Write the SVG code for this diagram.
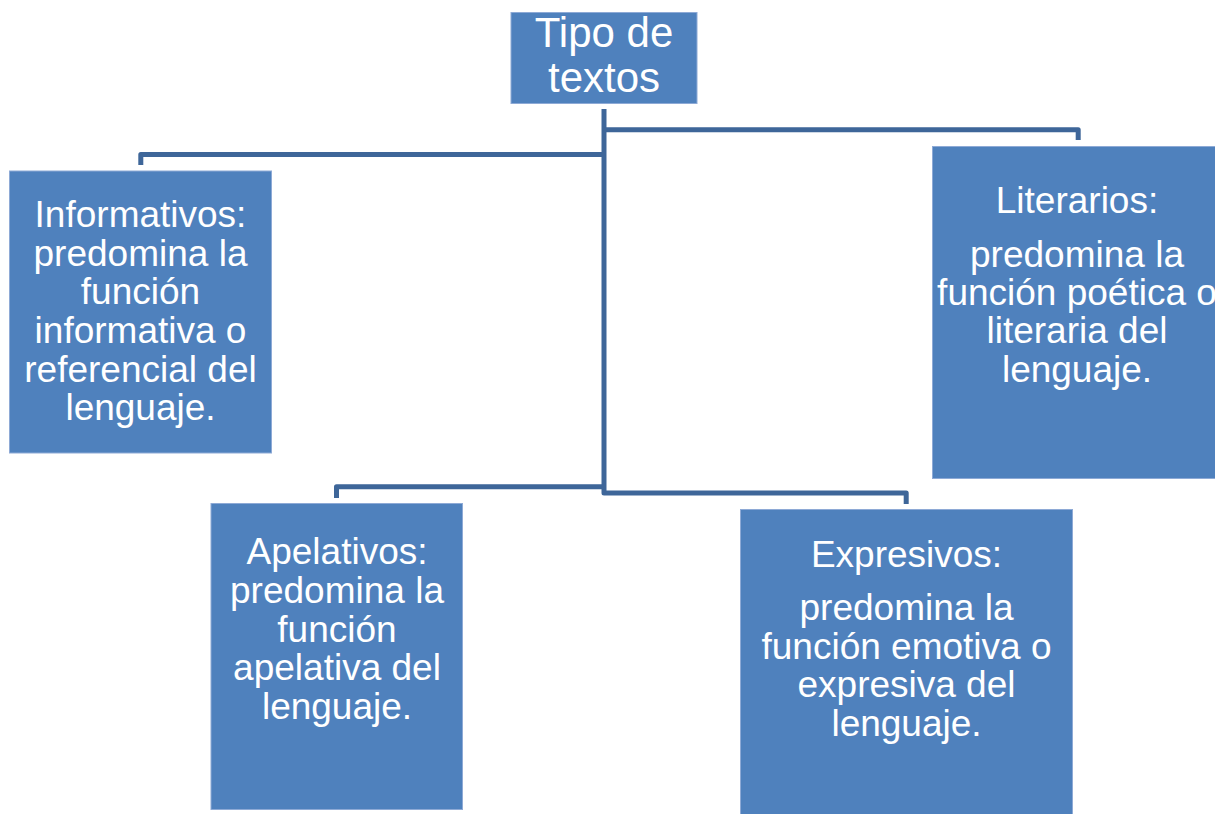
<svg xmlns="http://www.w3.org/2000/svg" width="1215" height="814" viewBox="0 0 1215 814">
<style>
.box{fill:#4F81BD;stroke:#8EAAD6;stroke-width:1}
.t{fill:#FFFFFF;font-family:"Liberation Sans",Arial,sans-serif;font-size:37px;text-anchor:middle}
.title{font-size:42px}
.conn{fill:none;stroke:#3E6699;stroke-width:5;stroke-linejoin:round;stroke-linecap:butt}
</style>
<rect width="1215" height="814" fill="#FFFFFF"/>
<g id="connectors">
<path class="conn" d="M604 109 V493 H906.2 V504"/>
<path class="conn" d="M604 154.5 H140.8 V165"/>
<path class="conn" d="M604 129.8 H1078.2 V140"/>
<path class="conn" d="M604 486.8 H336.5 V498"/>
</g>
<g id="node-tipo">
<rect class="box" x="511" y="12.5" width="186" height="91"/>
<text class="t title" x="604" y="47">Tipo de</text>
<text class="t title" x="604" y="92">textos</text>
</g>
<g id="node-informativos">
<rect class="box" x="9.5" y="171" width="262" height="282"/>
<text class="t" x="140.5" y="227">Informativos:</text>
<text class="t" x="140.5" y="265.7">predomina la</text>
<text class="t" x="140.5" y="304.3">función</text>
<text class="t" x="140.5" y="343">informativa o</text>
<text class="t" x="140.5" y="381.7">referencial del</text>
<text class="t" x="140.5" y="420.3">lenguaje.</text>
</g>
<g id="node-literarios">
<rect class="box" x="932.5" y="146.5" width="290" height="332"/>
<text class="t" x="1077" y="212.7">Literarios:</text>
<text class="t" x="1077" y="266.7">predomina la</text>
<text class="t" x="1077" y="305">función poética o</text>
<text class="t" x="1077" y="343">literaria del</text>
<text class="t" x="1077" y="381.7">lenguaje.</text>
</g>
<g id="node-apelativos">
<rect class="box" x="211" y="503.5" width="251.5" height="306"/>
<text class="t" x="337" y="564.3">Apelativos:</text>
<text class="t" x="337" y="602.7">predomina la</text>
<text class="t" x="337" y="641.5">función</text>
<text class="t" x="337" y="680.3">apelativa del</text>
<text class="t" x="337" y="719">lenguaje.</text>
</g>
<g id="node-expresivos">
<rect class="box" x="740.5" y="509.5" width="332" height="310"/>
<text class="t" x="906.5" y="567.3">Expresivos:</text>
<text class="t" x="906.5" y="620">predomina la</text>
<text class="t" x="906.5" y="658.5">función emotiva o</text>
<text class="t" x="906.5" y="697">expresiva del</text>
<text class="t" x="906.5" y="735.5">lenguaje.</text>
</g>
</svg>
